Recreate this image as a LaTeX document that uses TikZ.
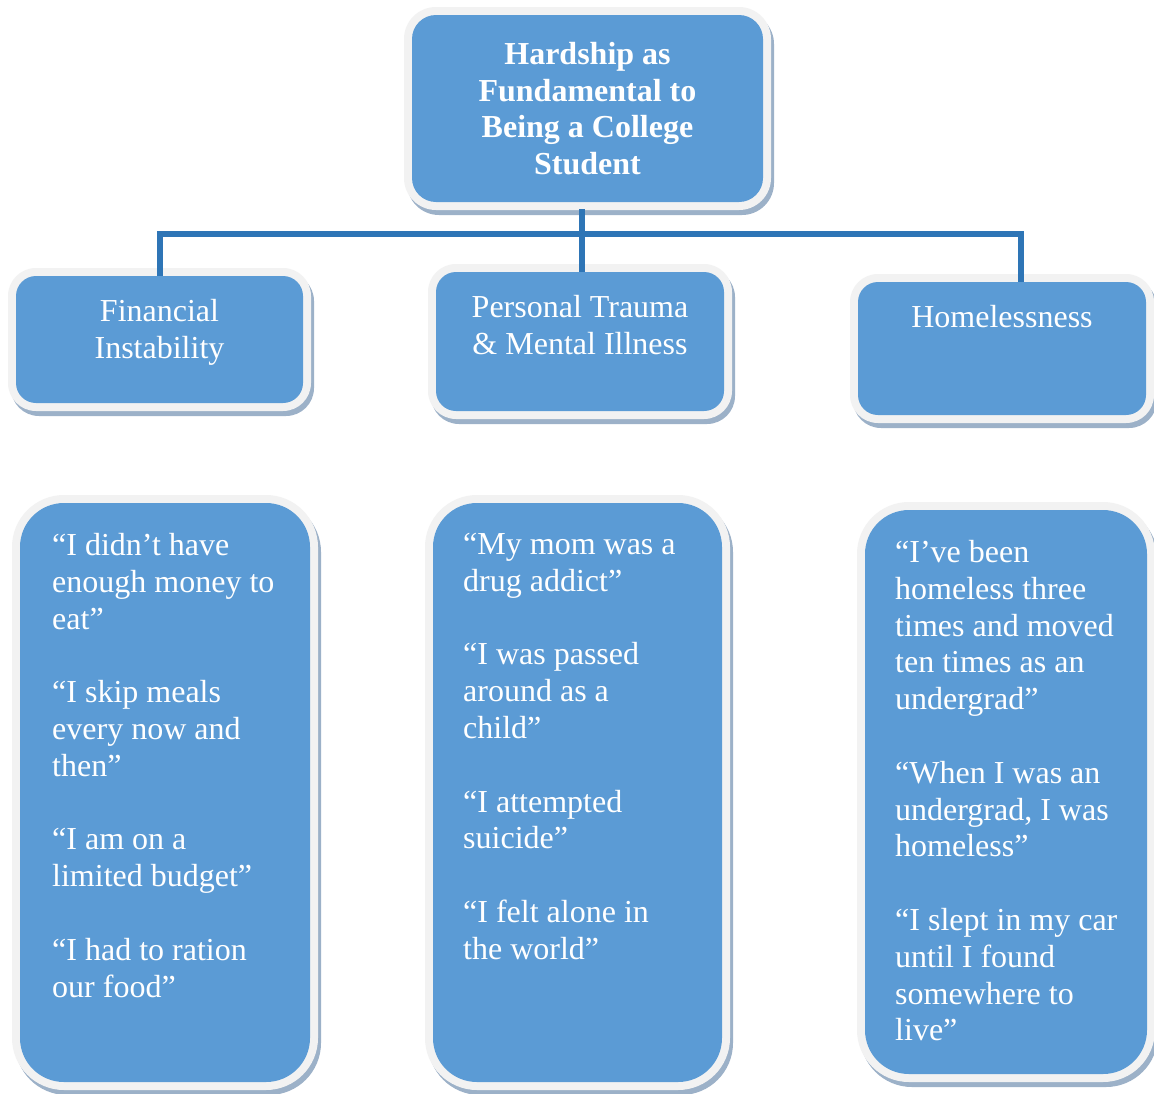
\documentclass[tikz,border=0pt]{standalone}
\usepackage{fontspec}
\setmainfont{Liberation Serif}
\usetikzlibrary{backgrounds,calc}

\definecolor{cardblue}{HTML}{5B9BD5}
\definecolor{linkblue}{HTML}{2E75B6}
\definecolor{rimgrey}{HTML}{F2F2F2}
\definecolor{rimshade}{HTML}{9CB1C8}

% light rim and soft drop shade around a card; #1 = node, #2 = outer corner radius
\newcommand{\cardrim}[2]{%
  \fill[rimshade, rounded corners=#2] ($(#1.north west)+(-5,-3)$) rectangle ($(#1.south east)+(11,13)$);
  \fill[rimgrey, rounded corners=#2] ($(#1.north west)+(-8,-8)$) rectangle ($(#1.south east)+(8,8)$);
}

\tikzset{
  card/.style={rectangle, fill=cardblue, text=white, inner sep=0pt, outer sep=0pt, rounded corners=#1},
  heading/.style={text=white, inner sep=0pt, align=center, font=\fontsize{32}{36.8}\selectfont},
  quotes/.style={text=white, inner sep=0pt, align=left, font=\fontsize{32}{36.8}\selectfont},
  link/.style={draw=linkblue, line width=6pt},
}

\begin{document}
\begin{tikzpicture}[x=1pt, y=-1pt]
  \useasboundingbox (0,0) rectangle (1154,1093);

  % cards
  \node[card=24pt, minimum width=351pt, minimum height=187pt, align=center,
        font=\bfseries\fontsize{32}{36.5}\selectfont] (top) at (587.5,108.5)
        {Hardship as\\Fundamental to\\Being a College\\Student};

  \node[card=20pt, minimum width=287pt, minimum height=127pt] (fin) at (159.5,339.5) {};
  \node[card=20pt, minimum width=288pt, minimum height=139pt] (trauma) at (580,341.5) {};
  \node[card=20pt, minimum width=288pt, minimum height=133pt] (home) at (1002,348.5) {};

  \node[card=44pt, minimum width=290pt, minimum height=579pt] (q1) at (165,792.5) {};
  \node[card=44pt, minimum width=289pt, minimum height=579pt] (q2) at (577.5,792.5) {};
  \node[card=44pt, minimum width=282pt, minimum height=564pt] (q3) at (1006,792) {};

  % category titles
  \node[heading, anchor=north] (finT) at (159.5,299) {Financial\\Instability};
  \node[heading, anchor=north] (traumaT) at (580,295) {Personal Trauma\\\& Mental Illness};
  \node[heading, anchor=base] (homeT) at (1002,327) {Homelessness};

  % quotations
  \node[quotes, anchor=north west] (q1T) at (52,533)
    {“I didn’t have\\enough money to\\eat”\\[36.8pt]
     “I skip meals\\every now and\\then”\\[36.8pt]
     “I am on a\\limited budget”\\[36.8pt]
     “I had to ration\\our food”};
  \node[quotes, anchor=north west] (q2T) at (463,533)
    {“My mom was a\\drug addict”\\[36.8pt]
     “I was passed\\around as a\\child”\\[36.8pt]
     “I attempted\\suicide”\\[36.8pt]
     “I felt alone in\\the world”};
  \node[quotes, anchor=north west] (q3T) at (895,540)
    {“I’ve been\\homeless three\\times and moved\\ten times as an\\undergrad”\\[36.8pt]
     “When I was an\\undergrad, I was\\homeless”\\[36.8pt]
     “I slept in my car\\until I found\\somewhere to\\live”};

  \coordinate (hub) at (582,234);
  \coordinate (rdrop) at (1021,234);

  \begin{pgfonlayer}{background}
    \fill[white] (0,0) rectangle (1154,1093);
    \cardrim{top}{32pt}
    \cardrim{fin}{28pt}
    \cardrim{trauma}{28pt}
    \cardrim{home}{28pt}
    \cardrim{q1}{52pt}
    \cardrim{q2}{52pt}
    \cardrim{q3}{52pt}
    % connectors
    \draw[link] ($(hub |- top.south)+(0,7)$) -- (hub |- trauma.north);
    \draw[link] (fin.north) |- (hub) -| (rdrop |- home.north);
  \end{pgfonlayer}
\end{tikzpicture}
\end{document}
